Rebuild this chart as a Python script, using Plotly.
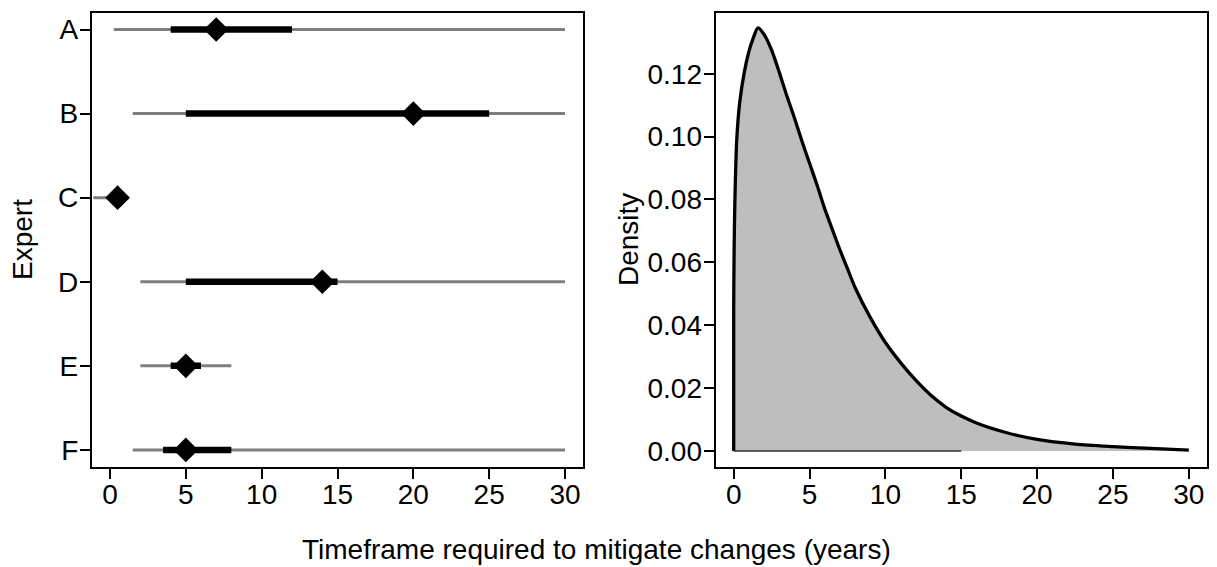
import plotly.graph_objects as go

# Expert elicitation: range (min-max), inner interval and best estimate, in years
experts = ["A", "B", "C", "D", "E", "F"]
lowest = [0.25, 1.5, -1.1, 2.0, 2.0, 1.5]
highest = [30.0, 30.0, 1.25, 30.0, 8.0, 30.0]
inner_low = [4.0, 5.0, 0.3, 5.0, 4.0, 3.5]
inner_high = [12.0, 25.0, 0.7, 15.0, 6.0, 8.0]
best = [7.0, 20.0, 0.5, 14.0, 5.0, 5.0]

# Pooled density of the timeframe
dens_x = [0.0, 0.0, 0.03, 0.08, 0.2, 0.4, 0.7, 1.0, 1.3, 1.6, 2.0, 2.5,
          3.0, 3.5, 4.0, 4.5, 5.0, 5.5, 6.0, 6.5, 7.0, 7.5, 8.0, 9.0, 10.0,
          11.0, 12.0, 13.0, 14.0, 15.0, 16.0, 18.0, 20.0, 22.5, 25.0, 27.5,
          30.0]
dens_y = [0.0, 0.045, 0.065, 0.08, 0.099, 0.111, 0.1205, 0.127, 0.1315,
          0.1346, 0.1325, 0.1275, 0.1205, 0.113, 0.106, 0.0985, 0.0915,
          0.0845, 0.077, 0.0705, 0.064, 0.058, 0.052, 0.0425, 0.0345, 0.0281,
          0.0225, 0.0177, 0.0139, 0.0111, 0.0089, 0.0058, 0.0037, 0.0022,
          0.0014, 0.0008, 0.0003]
base_x = [0.0, 15.0]
base_y = [0.0, 0.0]

x_ticks = [0, 5, 10, 15, 20, 25, 30]
dens_ticks = [0.0, 0.02, 0.04, 0.06, 0.08, 0.10, 0.12]

W, H = 1217, 567
FONT = "Liberation Sans, Arial, sans-serif"
FS = 28

ypos = list(range(len(experts), 0, -1))


def segments(lo, hi):
    xs, ys = [], []
    for a, b, y in zip(lo, hi, ypos):
        xs += [a, b, None]
        ys += [y, y, None]
    return xs, ys


fig = go.Figure()

gx, gy = segments(lowest, highest)
fig.add_trace(go.Scatter(x=gx, y=gy, mode="lines",
                         line=dict(color="#7f7f7f", width=3),
                         xaxis="x", yaxis="y", hoverinfo="skip"))
bx, by = segments(inner_low, inner_high)
fig.add_trace(go.Scatter(x=bx, y=by, mode="lines",
                         line=dict(color="black", width=6.5),
                         xaxis="x", yaxis="y", hoverinfo="skip"))
fig.add_trace(go.Scatter(x=best, y=ypos, mode="markers",
                         marker=dict(symbol="diamond", size=19, color="black",
                                     line=dict(width=0)),
                         xaxis="x", yaxis="y"))

fig.add_trace(go.Scatter(x=dens_x, y=dens_y, mode="lines", fill="tozeroy",
                         fillcolor="#bebebe",
                         line=dict(color="black", width=3.3, shape="spline",
                                   smoothing=0.8),
                         xaxis="x2", yaxis="y2"))
fig.add_trace(go.Scatter(x=base_x, y=base_y, mode="lines",
                         line=dict(color="#303030", width=1.5),
                         xaxis="x2", yaxis="y2"))

axis_common = dict(showgrid=False, zeroline=False, showline=True, mirror=True,
                   linecolor="black", linewidth=1.8, ticks="outside",
                   ticklen=10, tickwidth=1.5, tickcolor="black",
                   tickfont=dict(family=FONT, size=FS, color="black"))

y_dom = [1 - 466.7 / H, 1 - 12.7 / H]

fig.update_layout(
    width=W, height=H,
    margin=dict(l=0, r=0, t=0, b=0),
    paper_bgcolor="white", plot_bgcolor="white",
    showlegend=False,
    xaxis=dict(domain=[91.8 / W, 583.2 / W], range=[-1.2, 31.2],
               tickvals=x_ticks, anchor="y", ticklabelstandoff=-8,
               **axis_common),
    yaxis=dict(domain=y_dom, range=[0.8, 6.2], tickvals=ypos,
               ticktext=experts, anchor="x", ticklabelstandoff=-4,
               **axis_common),
    xaxis2=dict(domain=[715.5 / W, 1207 / W], range=[-1.2, 31.2],
                tickvals=x_ticks, anchor="y2", ticklabelstandoff=-8,
                **axis_common),
    yaxis2=dict(domain=y_dom, range=[-0.005, 0.1394], tickvals=dens_ticks,
                tickformat=".2f", anchor="x2", ticklabelstandoff=-4,
                **axis_common),
    annotations=[
        dict(text="Timeframe required to mitigate changes (years)",
             xref="paper", yref="paper", x=596 / W, y=1 - 549 / H,
             xanchor="center", yanchor="middle", showarrow=False,
             font=dict(family=FONT, size=FS, color="black")),
        dict(text="Expert", xref="paper", yref="paper", x=22 / W,
             y=1 - 240 / H, textangle=-90, xanchor="center", yanchor="middle",
             showarrow=False, font=dict(family=FONT, size=FS, color="black")),
        dict(text="Density", xref="paper", yref="paper", x=628 / W,
             y=1 - 240 / H, textangle=-90, xanchor="center", yanchor="middle",
             showarrow=False, font=dict(family=FONT, size=FS, color="black")),
    ],
)

fig.write_html("out.html")
